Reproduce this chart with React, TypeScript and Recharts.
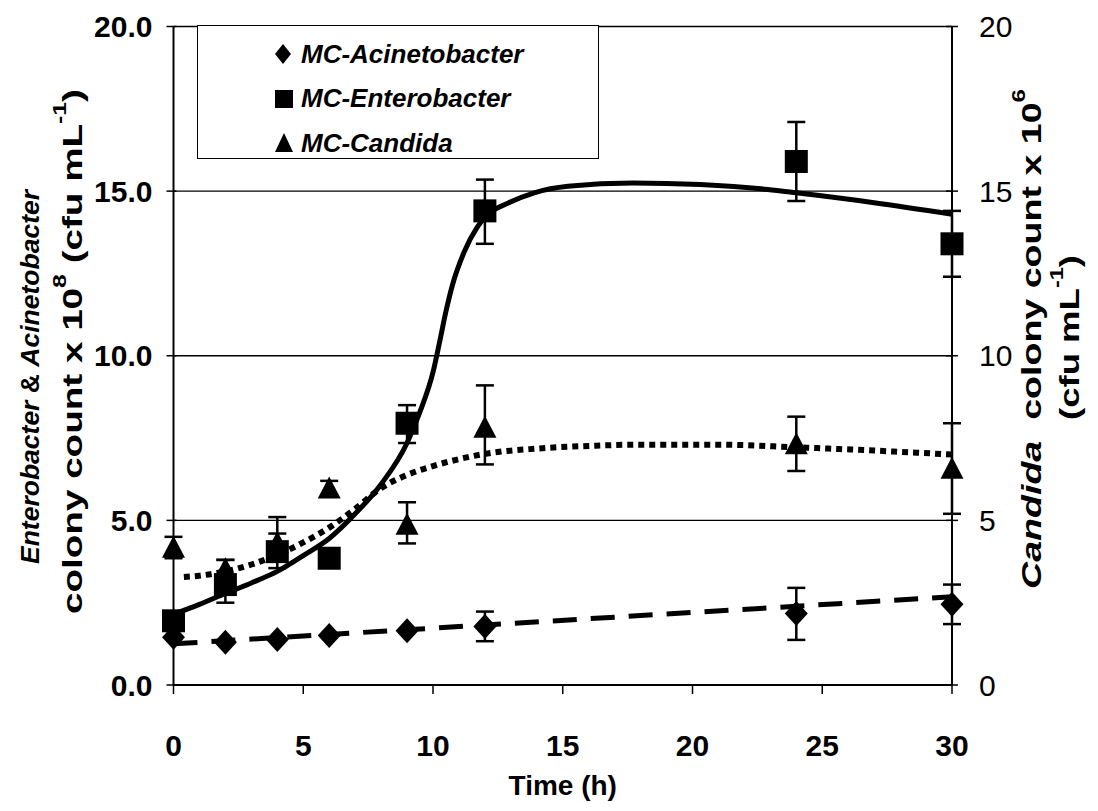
import React from "react";
import {
  ComposedChart,
  Line,
  Scatter,
  ErrorBar,
  XAxis,
  YAxis,
  CartesianGrid,
  Legend,
} from "recharts";

// ---- data ----
const times = [0, 2, 4, 6, 9, 12, 24, 30];

const acinetobacter = [1.45, 1.3, 1.38, 1.5, 1.65, 1.78, 2.17, 2.45];
const acinetobacterErr = [
  [0, 0], [0, 0], [0, 0], [0, 0], [0, 0], [0.45, 0.45], [0.8, 0.78], [0.6, 0.6],
];

const enterobacter = [1.95, 3.05, 4.05, 3.85, 7.95, 14.4, 15.9, 13.4];
const enterobacterErr = [
  [0, 0], [0.55, 0.75], [0.5, 1.05], [0, 0], [0.6, 0.55], [1.0, 0.95], [1.2, 1.2], [1.0, 1.0],
];

const candida = [4.15, 3.5, 4.3, 5.95, 4.85, 7.8, 7.3, 6.55];
const candidaErr = [
  [0.3, 0.35], [0.3, 0.3], [0.3, 0.3], [0.2, 0.25], [0.55, 0.7], [1.1, 1.3], [0.8, 0.85], [1.35, 1.4],
];

// fitted trend curves
const acinetobacterFitT = [0, 30];
const acinetobacterFitV = [1.25, 2.68];

const enterobacterFitT = [0, 1, 2, 3, 4, 5, 6, 7, 8, 9, 9.5, 10, 10.25, 10.5, 10.75, 11.2, 11.7, 12.1, 12.9, 13.9, 15.2, 17.7, 20.3, 22.9, 24, 27, 30];
const enterobacterFitV = [2.15, 2.45, 2.78, 3.1, 3.45, 3.93, 4.45, 5.2, 6.1, 7.35, 8.3, 9.5, 10.4, 11.35, 12.15, 13.15, 13.9, 14.28, 14.64, 14.95, 15.15, 15.25, 15.2, 15.05, 14.95, 14.65, 14.3];

const candidaFitT = [0.4, 1, 2, 3, 4, 5, 6, 7, 8, 9, 10, 11, 12, 14, 16, 18, 21, 24, 27, 30];
const candidaFitV = [3.28, 3.32, 3.45, 3.66, 3.95, 4.33, 4.78, 5.35, 5.98, 6.38, 6.65, 6.86, 7.02, 7.18, 7.26, 7.3, 7.3, 7.22, 7.12, 7.0];

const xTicks = [0, 5, 10, 15, 20, 25, 30];
const yTicks = [0, 5, 10, 15, 20];

const legendNames = ["MC-Acinetobacter", "MC-Enterobacter", "MC-Candida"];

// ---- built tables ----
const pts = (vals: number[], errs: number[][]) =>
  times.map((t, i) => ({ t, v: vals[i], e: errs[i] }));
const fit = (ts: number[], vs: number[]) => ts.map((t, i) => ({ t, v: vs[i] }));

const aciData = pts(acinetobacter, acinetobacterErr);
const entData = pts(enterobacter, enterobacterErr);
const canData = pts(candida, candidaErr);
const aciFit = fit(acinetobacterFitT, acinetobacterFitV);
const entFit = fit(enterobacterFitT, enterobacterFitV);
const canFit = fit(candidaFitT, candidaFitV);

const FONT = "'Liberation Sans', Arial, Helvetica, sans-serif";

const Diamond = (p: any) => {
  const { cx, cy } = p;
  if (cx == null || cy == null) return null;
  return <polygon points={`${cx},${cy - 12.5} ${cx + 11.5},${cy} ${cx},${cy + 12.5} ${cx - 11.5},${cy}`} fill="#000" />;
};
const Square = (p: any) => {
  const { cx, cy } = p;
  if (cx == null || cy == null) return null;
  return <rect x={cx - 11.5} y={cy - 11.5} width={23} height={23} fill="#000" />;
};
const Triangle = (p: any) => {
  const { cx, cy } = p;
  if (cx == null || cy == null) return null;
  return <polygon points={`${cx},${cy - 12.5} ${cx + 11.5},${cy + 9.5} ${cx - 11.5},${cy + 9.5}`} fill="#000" />;
};

const LeftTick = (p: any) => {
  const { x, y, payload } = p;
  return (
    <g>
      <line x1={x - 7} x2={x + 3} y1={y} y2={y} stroke="#000" strokeWidth={1.5} />
      <text x={x - 21} y={y} textAnchor="end" dominantBaseline="central" fontFamily={FONT} fontWeight="bold" fontSize={30} fill="#000">
        {Number(payload.value).toFixed(1)}
      </text>
    </g>
  );
};
const RightTick = (p: any) => {
  const { x, y, payload } = p;
  return (
    <g>
      <line x1={x - 6} x2={x + 6} y1={y} y2={y} stroke="#000" strokeWidth={1.5} />
      <text x={x + 27} y={y} textAnchor="start" dominantBaseline="central" fontFamily={FONT} fontSize={30} fill="#000">
        {payload.value}
      </text>
    </g>
  );
};
const BottomTick = (p: any) => {
  const { x, y, payload } = p;
  return (
    <g>
      <line x1={x} x2={x} y1={y} y2={y + 9} stroke="#000" strokeWidth={1.5} />
      <text x={x} y={y + 60} textAnchor="middle" dominantBaseline="central" fontFamily={FONT} fontWeight="bold" fontSize={30} fill="#000">
        {payload.value}
      </text>
    </g>
  );
};

const LeftTitle = () => {
  const x1 = 22;
  const y1 = 369;
  const x2 = 64;
  const y2 = 343.5;
  return (
    <g fontFamily={FONT} fontWeight="bold" fill="#000">
      <text
        x={x1}
        y={y1}
        fontSize={26.5}
        textAnchor="middle"
        dominantBaseline="central"
        transform={`rotate(-90, ${x1}, ${y1})`}
      >
        <tspan fontStyle="italic">Enterobacter</tspan>
        <tspan> &amp; </tspan>
        <tspan fontStyle="italic">Acinetobacter</tspan>
      </text>
      <text
        x={x2}
        y={y2}
        fontSize={28}
        textAnchor="middle"
        dominantBaseline="central"
        transform={`rotate(-90, ${x2}, ${y2})`}
        textLength={525}
        lengthAdjust="spacingAndGlyphs"
      >
        <tspan>colony count x 10</tspan>
        <tspan dy={-12} fontSize={18}>8</tspan>
        <tspan dy={12}> (cfu mL</tspan>
        <tspan dy={-12} fontSize={18}>-1</tspan>
        <tspan dy={12}>)</tspan>
      </text>
    </g>
  );
};

const RightTitle = () => {
  const x1 = 1023;
  const y1 = 331;
  const x2 = 1061;
  const y2 = 329.5;
  return (
    <g fontFamily={FONT} fontWeight="bold" fontSize={28} fill="#000">
      <text
        x={x1}
        y={y1}
        textAnchor="middle"
        dominantBaseline="central"
        transform={`rotate(-90, ${x1}, ${y1})`}
        textLength={500}
        lengthAdjust="spacingAndGlyphs"
      >
        <tspan fontStyle="italic">Candida</tspan>
        <tspan>{"\u00a0 colony count x 10"}</tspan>
        <tspan dy={-12} fontSize={18}>6</tspan>
      </text>
      <text
        x={x2}
        y={y2}
        textAnchor="middle"
        dominantBaseline="central"
        transform={`rotate(-90, ${x2}, ${y2})`}
        textLength={165}
        lengthAdjust="spacingAndGlyphs"
      >
        <tspan>(cfu mL</tspan>
        <tspan dy={-12} fontSize={18}>-1</tspan>
        <tspan dy={12}>)</tspan>
      </text>
    </g>
  );
};

const BottomTitle = (p: any) => {
  const vb = p.viewBox || { x: 0, y: 0, width: 0, height: 0 };
  const cx = vb.x + vb.width / 2;
  return (
    <text x={cx} y={vb.y + 100} textAnchor="middle" dominantBaseline="central" fontFamily={FONT} fontWeight="bold" fontSize={28} fill="#000">
      Time (h)
    </text>
  );
};

const LegendBox = () => {
  const markers = [
    <svg width={20} height={24} key="d"><polygon points="9,2 17,12 9,22 1,12" fill="#000" /></svg>,
    <svg width={20} height={24} key="s"><rect x={1} y={3} width={18} height={18} fill="#000" /></svg>,
    <svg width={20} height={24} key="t"><polygon points="10,2 19,21 1,21" fill="#000" /></svg>,
  ];
  return (
    <div
      style={{
        width: 402,
        height: 134,
        boxSizing: "border-box",
        border: "1.5px solid #000",
        background: "#fff",
        paddingTop: 6,
        fontFamily: FONT,
      }}
    >
      {legendNames.map((n, i) => (
        <div key={n} style={{ display: "flex", alignItems: "center", height: 44.5, paddingLeft: 76 }}>
          <div style={{ width: 27, display: "flex", alignItems: "center" }}>{markers[i]}</div>
          <span style={{ fontSize: 26, fontWeight: "bold", fontStyle: "italic", color: "#000" }}>{n}</span>
        </div>
      ))}
    </div>
  );
};

export default function App() {
  return (
    <div style={{ width: 1090, height: 795, background: "#fff" }}>
      <ComposedChart
        width={1090}
        height={795}
        margin={{ top: 18.5, right: 0, bottom: 0, left: 0 }}
        style={{ background: "#fff" }}
      >
        <CartesianGrid yAxisId="left" vertical={false} horizontal stroke="#000" strokeWidth={1.3} />
        <XAxis
          dataKey="t"
          type="number"
          domain={[0, 30]}
          ticks={xTicks}
          interval={0}
          height={118}
          tickSize={0}
          tickMargin={0}
          tick={<BottomTick />}
          axisLine={{ stroke: "#000", strokeWidth: 2 }}
          allowDuplicatedCategory={false}
          label={<BottomTitle />}
        />
        <YAxis
          yAxisId="left"
          orientation="left"
          type="number"
          domain={[0, 20]}
          ticks={yTicks}
          interval={0}
          width={165.5}
          tickSize={0}
          tickMargin={0}
          tick={<LeftTick />}
          axisLine={{ stroke: "#000", strokeWidth: 2 }}
          label={<LeftTitle />}
        />
        <YAxis
          yAxisId="right"
          orientation="right"
          type="number"
          domain={[0, 20]}
          ticks={yTicks}
          interval={0}
          width={146}
          tickSize={0}
          tickMargin={0}
          tick={<RightTick />}
          axisLine={{ stroke: "#000", strokeWidth: 2 }}
          label={<RightTitle />}
        />
        <Legend
          layout="horizontal"
          verticalAlign="middle"
          align="center"
          content={<LegendBox />}
          wrapperStyle={{ position: "absolute", left: 189, top: 17, width: 402, height: 134 }}
        />

        <Line
          yAxisId="left"
          data={aciFit}
          dataKey="v"
          type="linear"
          stroke="#000"
          strokeWidth={5}
          strokeDasharray="24 14"
          dot={false}
          activeDot={false}
          legendType="none"
          isAnimationActive={false}
        />
        <Line
          yAxisId="left"
          data={entFit}
          dataKey="v"
          type="monotone"
          stroke="#000"
          strokeWidth={5}
          dot={false}
          activeDot={false}
          legendType="none"
          isAnimationActive={false}
        />
        <Line
          yAxisId="right"
          data={canFit}
          dataKey="v"
          type="monotone"
          stroke="#000"
          strokeWidth={6}
          strokeDasharray="6 5"
          dot={false}
          activeDot={false}
          legendType="none"
          isAnimationActive={false}
        />

        <Scatter yAxisId="left" name={legendNames[0]} data={aciData} dataKey="v" shape={<Diamond />} isAnimationActive={false}>
          <ErrorBar dataKey="e" direction="y" width={9} stroke="#000" strokeWidth={2.5} />
        </Scatter>
        <Scatter yAxisId="left" name={legendNames[1]} data={entData} dataKey="v" shape={<Square />} isAnimationActive={false}>
          <ErrorBar dataKey="e" direction="y" width={9} stroke="#000" strokeWidth={2.5} />
        </Scatter>
        <Scatter yAxisId="right" name={legendNames[2]} data={canData} dataKey="v" shape={<Triangle />} isAnimationActive={false}>
          <ErrorBar dataKey="e" direction="y" width={9} stroke="#000" strokeWidth={2.5} />
        </Scatter>
      </ComposedChart>
    </div>
  );
}
